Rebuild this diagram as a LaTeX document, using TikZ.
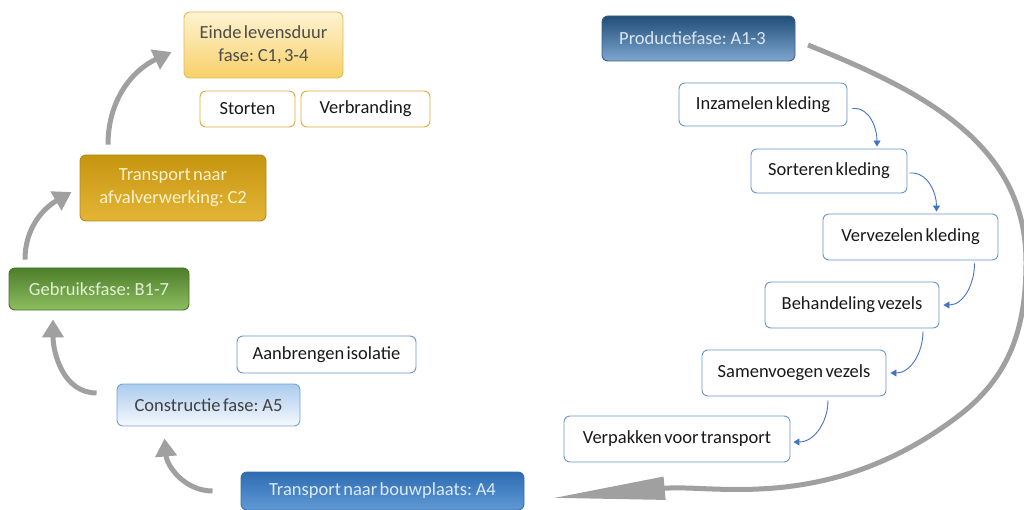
\documentclass[tikz,border=0pt]{standalone}
\usepackage{fontspec}
\setmainfont{Carlito}
\usetikzlibrary{arrows.meta}

\definecolor{goldline}{HTML}{D9A93A}
\definecolor{blueline}{HTML}{6B93CB}
\definecolor{flowblue}{HTML}{4472C4}
\definecolor{arrowgray}{HTML}{A0A0A0}
\definecolor{eindeline}{RGB}{226,186,80}
\definecolor{eindetop}{RGB}{254,243,210}
\definecolor{eindebot}{RGB}{248,208,104}
\definecolor{afvalline}{RGB}{176,138,30}
\definecolor{afvaltop}{RGB}{198,150,16}
\definecolor{afvalbot}{RGB}{228,180,54}
\definecolor{afvaltext}{RGB}{255,242,205}
\definecolor{gebruikline}{RGB}{74,112,40}
\definecolor{gebruiktop}{RGB}{78,126,42}
\definecolor{gebruikbot}{RGB}{140,190,96}
\definecolor{gebruiktext}{RGB}{226,239,214}
\definecolor{constrline}{RGB}{120,160,212}
\definecolor{constrtop}{RGB}{170,203,238}
\definecolor{constrbot}{RGB}{246,249,253}
\definecolor{bouwline}{RGB}{58,110,168}
\definecolor{bouwtop}{RGB}{46,108,178}
\definecolor{bouwbot}{RGB}{96,154,214}
\definecolor{bouwtext}{RGB}{220,233,247}
\definecolor{prodline}{RGB}{56,93,138}
\definecolor{prodtop}{RGB}{31,78,121}
\definecolor{prodbot}{RGB}{126,166,207}
\definecolor{prodtext}{RGB}{220,230,242}

\newcommand\boxfont{\fontsize{18.5}{23}\selectfont\spaceskip=0.13em plus 0.04em\relax}

\tikzset{
  box/.style={rounded corners=6pt, line width=0.9pt, align=center, inner sep=2pt,
    font=\boxfont},
  goldbox/.style={box, draw=goldline, fill=white, text=black!90},
  bluebox/.style={box, draw=blueline, fill=white, text=black!90},
  flow/.style={draw=flowblue, line width=0.9pt, -{Triangle[width=7pt,length=6pt]}},
  turn/.style={draw=arrowgray, line width=5pt, -{Triangle[width=21pt,length=18pt]}},
}

\begin{document}
\begin{tikzpicture}[x=1pt,y=-1pt]
\useasboundingbox (0,0) rectangle (1024,510);

% phases of the cycle
\node[box, minimum width=159, minimum height=66, draw=eindeline,
  top color=eindetop, bottom color=eindebot, text=black!70] (einde) at (263.5,45) {Einde levensduur\\fase: C1, 3-4};
\node[goldbox, minimum width=95, minimum height=36] (storten) at (247.5,109) {Storten};
\node[goldbox, minimum width=129, minimum height=36] (verbranding) at (365.5,109) {Verbranding};
\node[box, minimum width=186, minimum height=66, draw=afvalline,
  top color=afvaltop, bottom color=afvalbot, text=afvaltext] (afval) at (173,188) {Transport naar\\afvalverwerking: C2};
\node[box, minimum width=180, minimum height=42, draw=gebruikline,
  top color=gebruiktop, bottom color=gebruikbot, text=gebruiktext] (gebruik) at (99,289) {Gebruiksfase: B1-7};
\node[bluebox, minimum width=179, minimum height=37] (isolatie) at (326.5,354.5) {Aanbrengen isolatie};
\node[box, minimum width=183, minimum height=42, draw=constrline,
  top color=constrtop, bottom color=constrbot, text=black!75] (constructie) at (208.5,405) {Constructie fase: A5};
\node[box, minimum width=283, minimum height=38, draw=bouwline,
  top color=bouwtop, bottom color=bouwbot, text=bouwtext] (bouwplaats) at (382.5,491) {Transport naar bouwplaats: A4};
\node[box, minimum width=193, minimum height=45, draw=prodline,
  top color=prodtop, bottom color=prodbot, text=prodtext] (productie) at (698.5,38.5) {Productiefase: A1-3\hspace{12pt}};

% production steps
\node[bluebox, minimum width=168, minimum height=43] (inzamelen) at (763,104.5) {Inzamelen kleding};
\node[bluebox, minimum width=156, minimum height=44] (sorteren) at (829,171) {Sorteren kleding};
\node[bluebox, minimum width=175, minimum height=46] (vervezelen) at (910.5,237) {Vervezelen kleding};
\node[bluebox, minimum width=174, minimum height=46] (behandeling) at (852,305) {Behandeling vezels};
\node[bluebox, minimum width=184, minimum height=46] (samenvoegen) at (794,373) {Samenvoegen vezels};
\node[bluebox, minimum width=226, minimum height=46] (verpakken) at (677,439) {Verpakken voor transport};

\draw[flow] ([xshift=5pt,yshift=-4pt]inzamelen.east) to[out=5,in=90] ([xshift=48pt,yshift=2pt]sorteren.north);
\draw[flow] ([xshift=2pt,yshift=-2pt]sorteren.east) to[out=5,in=90] ([xshift=26pt,yshift=2pt]vervezelen.north);
\draw[flow] ([xshift=64pt,yshift=-3pt]vervezelen.south) to[out=-90,in=0] ([xshift=4pt]behandeling.east);
\draw[flow] ([xshift=71pt,yshift=-3pt]behandeling.south) to[out=-90,in=0] ([xshift=4pt]samenvoegen.east);
\draw[flow] ([xshift=34pt,yshift=-4pt]samenvoegen.south) to[out=-90,in=0] ([xshift=3pt,yshift=-3pt]verpakken.east);

% cycle arrows
\coordinate (bigstart) at (808,45);
\coordinate (bigend) at (553,498);
\draw[draw=arrowgray, line width=5pt, -{Triangle[width=22pt,length=112pt]}]
  (bigstart) to[out=-22,in=90] (1026,262) to[out=-90,in=37] (957,417) to[out=217,in=5] (bigend);
\draw[turn] ([xshift=-28pt]bouwplaats.west) to[out=180,in=-85] ([xshift=-44pt,yshift=-12pt]constructie.south);
\draw[turn] ([xshift=-20pt,yshift=12pt]constructie.west) to[out=180,in=-90] ([xshift=-46pt,yshift=-9pt]gebruik.south);
\draw[turn] ([xshift=-74pt,yshift=8pt]gebruik.north) to[out=90,in=210] ([xshift=-8pt,yshift=-4pt]afval.west);
\draw[turn] ([xshift=-65pt,yshift=10pt]afval.north) to[out=90,in=205] ([xshift=-12pt,yshift=-7pt]einde.west);
\end{tikzpicture}
\end{document}
